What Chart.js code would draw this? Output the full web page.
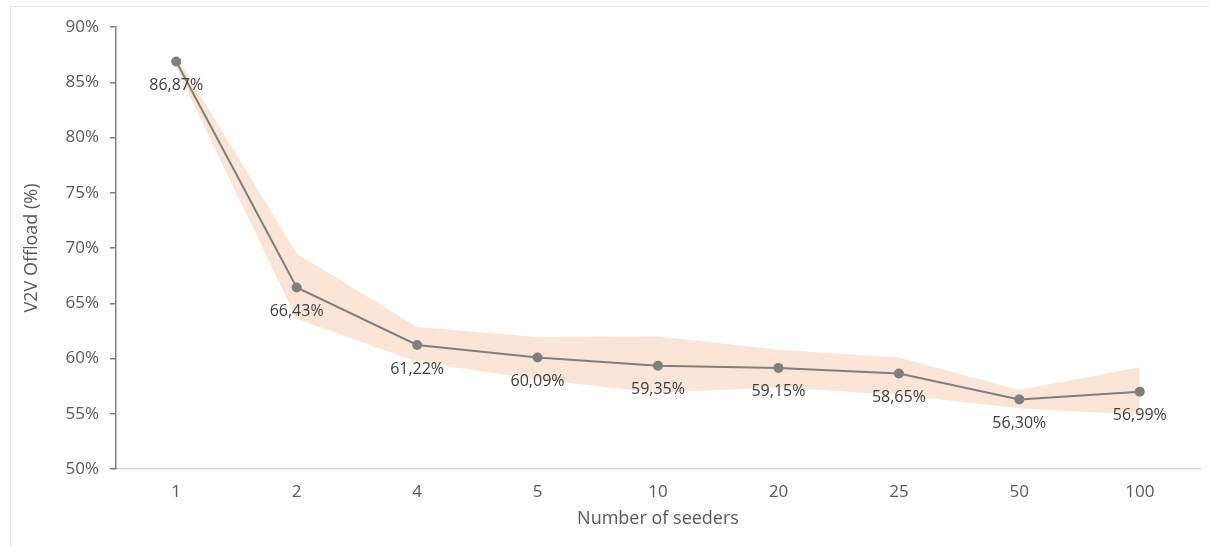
<!DOCTYPE html>
<html>
<head>
<meta charset="utf-8">
<script src="https://cdn.jsdelivr.net/npm/chart.js@4/dist/chart.umd.min.js"></script>
<style>
  body { margin: 0; background: #fff; }
  #wrap { position: relative; width: 1210px; height: 546px; overflow: hidden; }
  #frame { position: absolute; left: 10px; top: 6px; width: 1300px; height: 700px; border: 1px solid #e6e6e6; pointer-events: none; }
</style>
</head>
<body>
<div id="wrap">
  <div id="frame"></div>
  <canvas id="chart" width="1210" height="546"></canvas>
</div>
<script>
const seeders = ["1", "2", "4", "5", "10", "20", "25", "50", "100"];
const offload = [86.87, 66.43, 61.22, 60.09, 59.35, 59.15, 58.65, 56.30, 56.99];
const upper = [87.4, 69.5, 62.85, 61.95, 62.0, 60.8, 60.1, 57.15, 59.2];
const lower = [86.3, 63.6, 59.7, 58.1, 56.9, 57.4, 56.7, 55.5, 54.9];
const yTicks = [50, 55, 60, 65, 70, 75, 80, 85, 90];

const FONT = "'Open Sans', sans-serif";

// labels under each point, like Excel data labels
const pointLabels = {
    id: "pointLabels",
    afterDatasetsDraw(chart) {
        const meta = chart.getDatasetMeta(0);
        const ctx = chart.ctx;
        ctx.save();
        ctx.font = "16px " + FONT;
        ctx.fillStyle = "#404040";
        ctx.textAlign = "center";
        ctx.textBaseline = "middle";
        meta.data.forEach((pt, i) => {
            const txt = offload[i].toFixed(2).replace(".", ",") + "%";
            ctx.fillText(txt, pt.x, pt.y + 24);
        });
        ctx.restore();
    }
};

new Chart(document.getElementById("chart"), {
    type: "line",
    data: {
        labels: seeders,
        datasets: [{
            data: offload,
            borderColor: "#7f7f7f",
            borderWidth: 2,
            pointRadius: 5,
            pointBackgroundColor: "#7f7f7f",
            pointBorderWidth: 0,
            tension: 0,
            fill: false
        }, {
            data: upper,
            borderWidth: 0,
            pointRadius: 0,
            backgroundColor: "#fbe5d6",
            fill: "+1"
        }, {
            data: lower,
            borderWidth: 0,
            pointRadius: 0,
            fill: false
        }]
    },
    options: {
        responsive: false,
        animation: false,
        layout: { padding: { left: 10, top: 27, right: 10, bottom: 0 } },
        plugins: { legend: { display: false }, tooltip: { enabled: false } },
        scales: {
            x: {
                offset: true,
                grid: { display: false, drawTicks: false },
                border: { color: "#d9d9d9", width: 1.5 },
                ticks: { color: "#595959", font: { family: FONT, size: 17 }, padding: 13 },
                title: { display: true, text: "Number of seeders", color: "#595959", font: { family: FONT, size: 18 }, padding: { bottom: 16 } },
                afterFit(scale) { scale.height = 77; }
            },
            y: {
                min: 50,
                max: 90,
                afterBuildTicks(scale) { scale.ticks = yTicks.map(v => ({ value: v })); },
                grid: { drawOnChartArea: false, drawTicks: true, tickLength: 6, color: "#808080", lineWidth: 1.5 },
                border: { color: "#808080", width: 1.5 },
                ticks: { color: "#595959", font: { family: FONT, size: 17 }, padding: 11, callback: v => v + "%" },
                title: { display: true, text: "V2V Offload (%)", color: "#595959", font: { family: FONT, size: 18 }, padding: { top: 11 } },
                afterFit(scale) { scale.width = 106; }
            }
        }
    },
    plugins: [pointLabels]
});
</script>
</body>
</html>
